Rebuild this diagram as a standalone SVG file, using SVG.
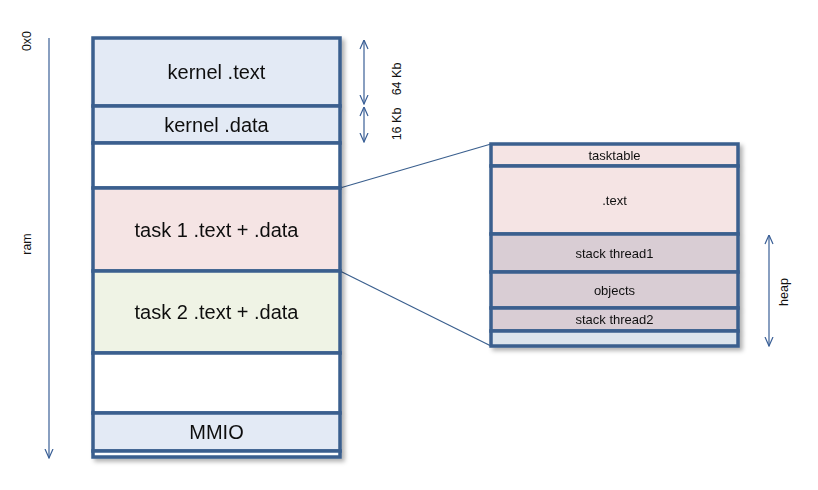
<svg xmlns="http://www.w3.org/2000/svg" width="818" height="490" viewBox="0 0 818 490">
<defs>
<filter id="sh" x="-10%" y="-10%" width="130%" height="130%">
<feDropShadow dx="3" dy="3" stdDeviation="2" flood-color="#000" flood-opacity="0.3"/>
</filter>
<marker id="ah" viewBox="0 0 10 10" refX="9.5" refY="5" markerWidth="10" markerHeight="10" orient="auto-start-reverse" markerUnits="userSpaceOnUse">
<path d="M0.5,1 L9.5,5 L0.5,9" fill="none" stroke="#3A5F96" stroke-width="1.2"/>
</marker>
<style>
.b{stroke:#3A5F8E;stroke-width:3.5}
.kb{fill:#E3EAF5}
.pk{fill:#F5E4E4}
.gr{fill:#EFF3E5}
.wh{fill:#FFFFFF}
.mv{fill:#D9CDD4}
.lb{fill:#DCE4EC}
.t{font-family:"Liberation Sans",Arial,sans-serif;fill:#111;text-anchor:middle;dominant-baseline:central}
.big{font-size:20px}
.sm{font-size:13px}
.rot{font-size:12.5px}
.ar{stroke:#3A5F96;stroke-width:1.2;fill:none}
.cn{stroke:#3A5F8E;stroke-width:1.2;fill:none}
</style>
</defs>
<g id="connectors">
<line class="ar" x1="49" y1="38" x2="49" y2="458" marker-end="url(#ah)"/>
<line class="ar" x1="364" y1="40" x2="364" y2="104" marker-start="url(#ah)" marker-end="url(#ah)"/>
<line class="ar" x1="364" y1="107" x2="364" y2="142" marker-start="url(#ah)" marker-end="url(#ah)"/>
<line class="ar" x1="769" y1="235" x2="769" y2="346" marker-start="url(#ah)" marker-end="url(#ah)"/>
<line class="cn" x1="340" y1="188" x2="491" y2="144"/>
<line class="cn" x1="340" y1="271" x2="491" y2="346"/>
</g>
<g id="labels">
<text class="t rot" transform="translate(27,41) rotate(-90)">0x0</text>
<text class="t rot" transform="translate(27,244) rotate(-90)">ram</text>
<text class="t rot" transform="translate(397,79) rotate(-90)">64 Kb</text>
<text class="t rot" transform="translate(397,124) rotate(-90)">16 Kb</text>
<text class="t rot" transform="translate(784,292) rotate(-90)">heap</text>
</g>
<g id="ram" filter="url(#sh)">
<g id="kernel-text"><rect class="b kb" x="93" y="38" width="247" height="68"/><text class="t big" x="216.5" y="72">kernel .text</text></g>
<g id="kernel-data"><rect class="b kb" x="93" y="106" width="247" height="37"/><text class="t big" x="216.5" y="124.5">kernel .data</text></g>
<g id="free1"><rect class="b wh" x="93" y="143" width="247" height="45"/></g>
<g id="task1"><rect class="b pk" x="93" y="188" width="247" height="83"/><text class="t big" x="216.5" y="229.5">task 1 .text + .data</text></g>
<g id="task2"><rect class="b gr" x="93" y="271" width="247" height="82"/><text class="t big" x="216.5" y="312">task 2 .text + .data</text></g>
<g id="free2"><rect class="b wh" x="93" y="353" width="247" height="60"/></g>
<g id="mmio"><rect class="b kb" x="93" y="413" width="247" height="38"/><text class="t big" x="216.5" y="432">MMIO</text></g>
<g id="end"><rect class="b wh" x="93" y="451" width="247" height="6"/></g>
</g>
<g id="task" filter="url(#sh)">
<g id="tasktable"><rect class="b pk" x="491" y="144" width="247" height="22"/><text class="t sm" x="614.5" y="155">tasktable</text></g>
<g id="text"><rect class="b pk" x="491" y="166" width="247" height="68"/><text class="t sm" x="614.5" y="200">.text</text></g>
<g id="stack1"><rect class="b mv" x="491" y="234" width="247" height="38"/><text class="t sm" x="614.5" y="253">stack thread1</text></g>
<g id="objects"><rect class="b mv" x="491" y="272" width="247" height="36"/><text class="t sm" x="614.5" y="290">objects</text></g>
<g id="stack2"><rect class="b mv" x="491" y="308" width="247" height="23"/><text class="t sm" x="614.5" y="319.5">stack thread2</text></g>
<g id="tail"><rect class="b lb" x="491" y="331" width="247" height="15"/></g>
</g>
</svg>
